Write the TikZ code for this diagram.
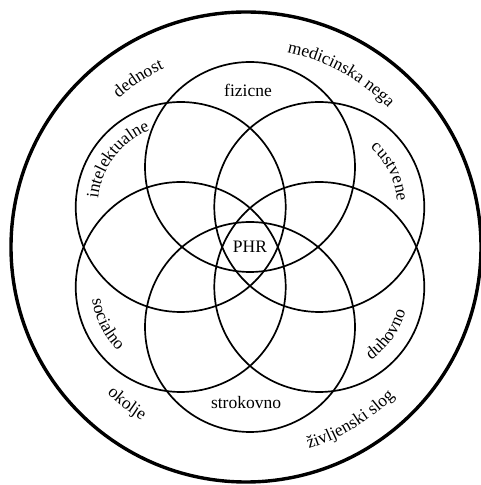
\documentclass[tikz,border=0pt]{standalone}
\usepackage{fontspec}
\setmainfont{Liberation Serif}
\usetikzlibrary{calc,decorations.text}
\newcommand\lblfont{\fontsize{17.5}{20}\selectfont}

\begin{document}
\begin{tikzpicture}[x=1pt, y=1pt,
  rim/.style={line width=3.4pt},
  ring/.style={line width=1.7pt},
  lbl/.style={font=\lblfont, inner sep=0pt},
  arclbl/.style={decorate, decoration={text along path, text align=center,
                 text={|\lblfont|#1}}},
]
\useasboundingbox (0,0) rectangle (481,485);
\coordinate (O) at (246,238);
\coordinate (C) at (250,238);

\draw[rim] (O) circle[radius=235];
\foreach \a/\n in {90/fiz, 150/int, 210/soc, 270/str, 330/duh, 30/cus}
  \coordinate (\n) at ($(C)+(\a:80)$);
\foreach \n in {fiz, int, soc, str, duh, cus}
  \draw[ring] (\n) circle[radius=105];

% straight labels
\node[lbl] (fizicne)   at (248,395) {fizicne};
\node[lbl] (strokovno) at (246,82)  {strokovno};
\node[lbl] (phr)       at (250,238) {PHR};

% labels along the small circles
\path[arclbl={intelektualne}] (int) ++(193:83) arc[start angle=193, end angle=93, radius=83];
\path[arclbl={custvene}] (cus) ++(76.6:78) arc[start angle=76.6, end angle=-23.4, radius=78];
\path[arclbl={socialno}] (soc) ++(156.8:89.5) arc[start angle=156.8, end angle=256.8, radius=89.5];
\path[arclbl={duhovno}] (duh) ++(-85.2:89.7) arc[start angle=-85.2, end angle=14.8, radius=89.7];

% labels along the outer ring
\path[arclbl={dednost}] (O) ++(167.6:196) arc[start angle=167.6, end angle=77.6, radius=196];
\path[arclbl={medicinska nega}] (O) ++(111.2:199) arc[start angle=111.2, end angle=11.2, radius=199];
\path[arclbl={okolje}] (O) ++(187.8:202) arc[start angle=187.8, end angle=277.8, radius=202];
\path[arclbl={življenski slog}] (O) ++(251.1:211) arc[start angle=251.1, end angle=351.1, radius=211];
\end{tikzpicture}
\end{document}
